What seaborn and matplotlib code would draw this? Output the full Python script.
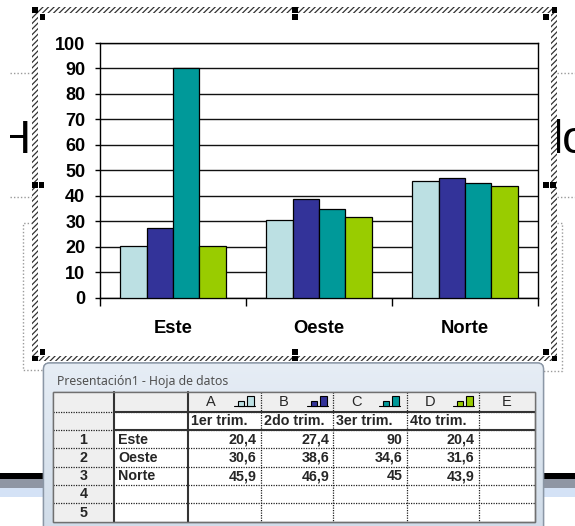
import matplotlib
matplotlib.use("Agg")
import numpy as np
import pandas as pd
import matplotlib.pyplot as plt
import seaborn as sns
from matplotlib.patches import Rectangle, FancyBboxPatch

# ---- data -------------------------------------------------------------
regions = ["Este", "Oeste", "Norte"]
quarters = ["1er trim.", "2do trim.", "3er trim.", "4to trim."]
q1 = [20.4, 30.6, 45.9]
q2 = [27.4, 38.6, 46.9]
q3 = [90, 34.6, 45]
q4 = [20.4, 31.6, 43.9]
series = [q1, q2, q3, q4]
col_letters = ["A", "B", "C", "D"]
colors = ["#BCE0E3", "#333399", "#009999", "#99CC00"]
y_ticks = list(range(0, 101, 10))

df = pd.DataFrame({
    "region": [r for s in series for r in regions],
    "quarter": [q for q, s in zip(quarters, series) for _ in s],
    "value": [v for s in series for v in s],
})

# ---- figure -----------------------------------------------------------
sns.set_style("white")
plt.rcParams["font.family"] = ["Liberation Sans", "DejaVu Sans"]

W, H = 575, 526
fig = plt.figure(figsize=(W / 100, H / 100), dpi=100)
fig.patch.set_facecolor("white")

# plot area in pixels
px_l, px_r, px_t, px_b = 100, 538, 43, 297.5
ax = fig.add_axes([px_l / W, 1 - px_b / H, (px_r - px_l) / W, (px_b - px_t) / H])

sns.barplot(data=df, x="region", y="value", hue="quarter",
            order=regions, hue_order=quarters, palette=colors, saturation=1,
            edgecolor="black", linewidth=0.9, width=0.72,
            errorbar=None, legend=False, ax=ax, zorder=3)

ax.set_xlim(-0.5, 2.5)
ax.set_ylim(0, 100)
ax.set_yticks(y_ticks)
ax.set_xlabel("")
ax.set_ylabel("")
ax.set_axisbelow(True)
ax.yaxis.grid(True, color="#111111", linewidth=1.0)
ax.xaxis.grid(False)
for sp in ax.spines.values():
    sp.set_visible(True)
    sp.set_color("black")
    sp.set_linewidth(1.0)

ax.tick_params(axis="y", left=True, length=3.6, width=1, pad=7,
               labelsize=13, direction="out", colors="black")
ax.tick_params(axis="x", which="major", bottom=True, length=0, pad=16,
               labelsize=13.2, colors="black")
ax.set_xticks([-0.5, 0.5, 1.5, 2.5], minor=True)
ax.tick_params(axis="x", which="minor", bottom=True, length=5.8, width=1,
               direction="out", color="black")
for lbl in ax.get_xticklabels() + ax.get_yticklabels():
    lbl.set_fontweight("bold")

# ---- slide decorations and data sheet (pixel coordinates) -------------
ov = fig.add_axes([0, 0, 1, 1], zorder=10)
ov.patch.set_visible(False)
ov.axis("off")

# title fragments peeking out behind the chart
ov.text(-2.9, 153, "H", fontsize=33, color="black", va="baseline", ha="left", zorder=1.5)
ov.text(553, 153, "lo", fontsize=33, color="black", va="baseline", ha="left", zorder=1.5)
ov.add_patch(Rectangle((0, 0), 10, 300, facecolor="white", edgecolor="none", zorder=2))

# dotted placeholder outlines
dot = dict(color="#9a9a9a", linewidth=1.0, linestyle=(0, (1, 1.5)), zorder=2.5)
for yy in (73, 197):
    ov.plot([10, 32], [yy, yy], **dot)
    ov.plot([557, 575], [yy, yy], **dot)
ov.plot([32, 23.3, 23.3, 44], [222.7, 222.7, 370, 370], **dot)
ov.plot([557, 561.7, 561.7, 543], [223, 223, 370.7, 370.7], **dot)

# hatched selection frame of the chart object
plt.rcParams["hatch.linewidth"] = 0.9
for (x0, y0, w, h) in [(32, 7, 525, 5.5), (32, 355.5, 525, 5.5),
                       (32, 7, 6, 354), (551, 7, 6, 354)]:
    ov.add_patch(Rectangle((x0, y0), w, h, facecolor="white",
                           edgecolor="#333333", hatch="//////",
                           linewidth=0, zorder=3))

# sizing handles
hs = 5.5
for (hx, hy) in [(32, 7), (39.5, 14), (292, 7), (292, 14), (551.5, 7), (543, 14),
                 (32, 182), (38.5, 182), (543, 182), (550, 182),
                 (32, 355.5), (39.5, 349), (292, 349), (292, 355.5),
                 (543, 349), (551.5, 355.5)]:
    ov.add_patch(Rectangle((hx, hy), hs, hs, facecolor="black",
                           edgecolor="none", zorder=4))

# slide bottom bands
ov.add_patch(Rectangle((0, 473), W, 5.5, facecolor="black", edgecolor="none", zorder=1))
ov.add_patch(Rectangle((0, 478.5), W, 9.5, facecolor="#8f96a4", edgecolor="none", zorder=1))
ov.add_patch(Rectangle((0, 488), W, 9, facecolor="#d4e2f6", edgecolor="none", zorder=1))

# data sheet window
win = FancyBboxPatch((43.5, 363), 500, 180,
                     boxstyle="round,pad=0,rounding_size=6",
                     facecolor="#dbe5f0", edgecolor="#8b97a6",
                     linewidth=1.0, zorder=5)
ov.add_patch(win)
grad = np.linspace(0, 1, 64)[:, None]
img = ov.imshow(grad, extent=(43.5, 543.5, 543, 363), cmap=matplotlib.colors.LinearSegmentedColormap.from_list(
    "frame", ["#e6edf5", "#cfdbe8"]), aspect="auto", zorder=5.1, interpolation="bilinear")
img.set_clip_path(win)
ov.add_patch(FancyBboxPatch((43.5, 363), 500, 180,
                            boxstyle="round,pad=0,rounding_size=6",
                            facecolor="none", edgecolor="#8b97a6",
                            linewidth=1.0, zorder=5.2))
ov.text(57, 381.5, "Presentación1 - Hoja de datos", fontsize=8.8,
        family=["Noto Sans", "DejaVu Sans"], color="#505050",
        va="center", ha="left", zorder=6)

cols = [52.7, 114, 187.7, 260.7, 333.3, 406.7, 478.7, 534.7]
rows = [392.3, 411.7, 430, 448.3, 466.7, 485, 502.7, 521.7]
tz = 6
ov.add_patch(Rectangle((cols[0], rows[0]), cols[-1] - cols[0], rows[-1] - rows[0],
                       facecolor="white", edgecolor="#707070", linewidth=1.0, zorder=tz))
ov.add_patch(Rectangle((cols[0], rows[0]), cols[-1] - cols[0], rows[1] - rows[0],
                       facecolor="#efefef", edgecolor="none", zorder=tz + 0.1))
ov.add_patch(Rectangle((cols[0], rows[0]), cols[1] - cols[0], rows[-1] - rows[0],
                       facecolor="#efefef", edgecolor="none", zorder=tz + 0.1))

tdot = dict(color="#202020", linewidth=0.9, linestyle=(0, (1, 1)), zorder=tz + 0.2)
for yy in rows[1:-1]:
    ov.plot([cols[0], cols[-1]], [yy, yy], **tdot)
for xx in cols[3:-1]:
    ov.plot([xx, xx], [rows[0], rows[-1]], **tdot)
solid = dict(color="#333333", linewidth=1.5, zorder=tz + 0.3)
for yy in rows[1:3]:
    ov.plot([cols[1], cols[-1]], [yy, yy], **solid)
for xx in cols[1:3]:
    ov.plot([xx, xx], [rows[0], rows[-1]], **solid)
ov.add_patch(Rectangle((cols[0], rows[0]), cols[-1] - cols[0], rows[-1] - rows[0],
                       facecolor="none", edgecolor="#707070", linewidth=1.0, zorder=tz + 0.4))

tt = tz + 0.5
fs = 10.3
hdr_y = (rows[0] + rows[1]) / 2
for i, (letter, c) in enumerate(zip(col_letters, colors)):
    cl = cols[2 + i]
    ov.text(cl + 23, hdr_y + 0.5, letter, fontsize=10.5, ha="center", va="center", zorder=tt)
    ov.plot([cl + 46, cl + 67], [405.8, 405.8], color="black", linewidth=0.8, zorder=tt)
    ov.add_patch(Rectangle((cl + 50, 400.5), 6, 5.3, facecolor=c, edgecolor="black",
                           linewidth=0.8, zorder=tt))
    ov.add_patch(Rectangle((cl + 59, 396), 7, 9.8, facecolor=c, edgecolor="black",
                           linewidth=0.8, zorder=tt))
    ov.text(cl + 3, (rows[1] + rows[2]) / 2 + 0.5, quarters[i], fontsize=fs,
            fontweight="bold", ha="left", va="center", zorder=tt)
ov.text((cols[6] + cols[7]) / 2, hdr_y + 0.5, "E", fontsize=10.5, ha="center",
        va="center", zorder=tt)

for r in range(5):
    yc = (rows[2 + r] + rows[3 + r]) / 2 + 0.5
    ov.text((cols[0] + cols[1]) / 2, yc, str(r + 1), fontsize=fs, fontweight="bold",
            ha="center", va="center", zorder=tt)
for r, name in enumerate(regions):
    yc = (rows[2 + r] + rows[3 + r]) / 2 + 0.5
    ov.text(cols[1] + 4, yc, name, fontsize=fs, fontweight="bold",
            ha="left", va="center", zorder=tt)
    for i, s in enumerate(series):
        txt = f"{s[r]:g}".replace(".", ",")
        ov.text(cols[3 + i] - 4, yc, txt, fontsize=fs, fontweight="bold",
                ha="right", va="center", zorder=tt)

ov.set_xlim(0, W)
ov.set_ylim(H, 0)

fig.savefig("out.png", dpi=100)
